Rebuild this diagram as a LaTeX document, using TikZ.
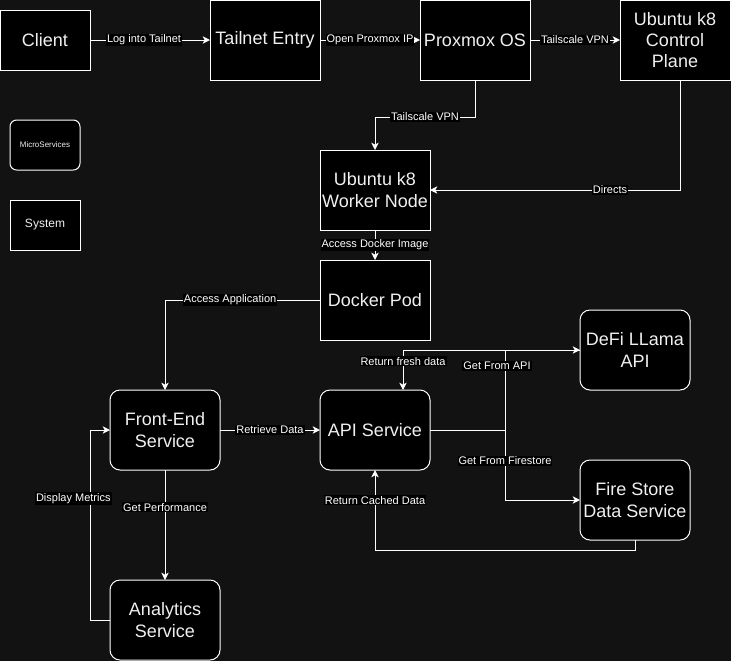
\documentclass[tikz,border=0pt]{standalone}
\usepackage{fontspec}
\setmainfont{Liberation Sans}
\usepackage{tikz}
\usetikzlibrary{arrows.meta}
\usetikzlibrary{positioning}
\definecolor{bgdark}{RGB}{18,18,18}
\definecolor{boxtext}{RGB}{240,240,240}

\begin{document}
\begin{tikzpicture}[x=0.75pt, y=-0.75pt,
                font=\fontsize{13.5}{16}\selectfont,
                block/.style={rectangle, draw=white, line width=0.75pt, fill=black, text=boxtext, align=center, minimum width=82.5pt, minimum height=60pt, inner sep=0pt, outer sep=0pt},
                service/.style={block, rounded corners=7.5pt},
                lbl/.style={fill=black, text=white, font=\fontsize{8.25}{9}\selectfont, inner sep=0.75pt},
                arrow/.style={draw=white, line width=0.75pt, -{Stealth[length=5.5pt, width=5.5pt, inset=1.5pt]}}
            ]
            \useasboundingbox (0,0) rectangle (731,661);
            \fill[bgdark] (0,0) rectangle (731,661);
            \node[block, minimum width=67.5pt, minimum height=45pt] (client) at (45,40) {Client};
            \node[block, right=90pt of client] (tailnet) {Tailnet Entry};
            \node[block, right=75pt of tailnet] (proxmox) {Proxmox OS};
            \node[block, right=67.5pt of proxmox] (ctrl) {Ubuntu k8\\Control\\Plane};
            \node[service, rounded corners=5pt, minimum width=52.5pt, minimum height=37.5pt, font=\fontsize{6}{7}\selectfont] (micro) at (45,145) {MicroServices};
            \node[block, minimum width=52.5pt, minimum height=37.5pt, font=\fontsize{9}{10}\selectfont] (system) at (45,225) {System};
            \node[block] (worker) at (375,190) {Ubuntu k8\\Worker Node};
            \node[block, below=22.5pt of worker] (pod) {Docker Pod};
            \node[service] (api) at (375,430) {API Service};
            \node[service, left=75pt of api] (front) {Front-End\\Service};
            \node[service, below=82.5pt of front] (analytics) {Analytics\\Service};
            \node[service] (defi) at (635,350) {DeFi LLama\\API};
            \node[service] (fire) at (635,500) {Fire Store\\Data Service};
            \path[arrow] (client) -- node[lbl, pos=0.45]{Log into Tailnet} (tailnet);
            \path[arrow] (tailnet) -- node[lbl]{Open Proxmox IP} (proxmox);
            \path[arrow] (proxmox) -- node[lbl]{Tailscale VPN} (ctrl);
            \path[arrow] (proxmox.south) -- ++(0,37) -| node[lbl, pos=0.25]{Tailscale VPN} (worker.north);
            \path[arrow] ([xshift=3.75pt]ctrl.south) |- node[lbl, pos=0.64]{Directs} (worker.east);
            \path[arrow] (worker) -- node[lbl]{Access Docker Image} (pod);
            \path[arrow] (pod.west) -| node[lbl, pos=0.29]{Access Application} (front.north);
            \path[arrow] (front) -- node[lbl]{Retrieve Data} (api);
            \path[arrow] (front) -- node[lbl, pos=0.34]{Get Performance} (analytics);
            \path[arrow] (analytics.west) -- ++(-20,0) |- node[lbl, pos=0.32, xshift=-12.5pt]{Display Metrics} (front.west);
            \path[arrow] (api.east) -- ++(75,0) |- node[lbl, pos=0.4, xshift=-6pt]{Get From API} (defi.west);
            \path[arrow] (api.east) -- ++(75,0) |- node[lbl, pos=0.22]{Get From Firestore} (fire.west);
            \path[arrow] (defi.west) -| node[lbl, pos=0.64]{Return fresh data} ([xshift=21pt]api.north);
            \path[arrow] (fire.south) -- ++(0,10) -| node[lbl, pos=0.81]{Return Cached Data} (api.south);
        \end{tikzpicture}
\end{document}
